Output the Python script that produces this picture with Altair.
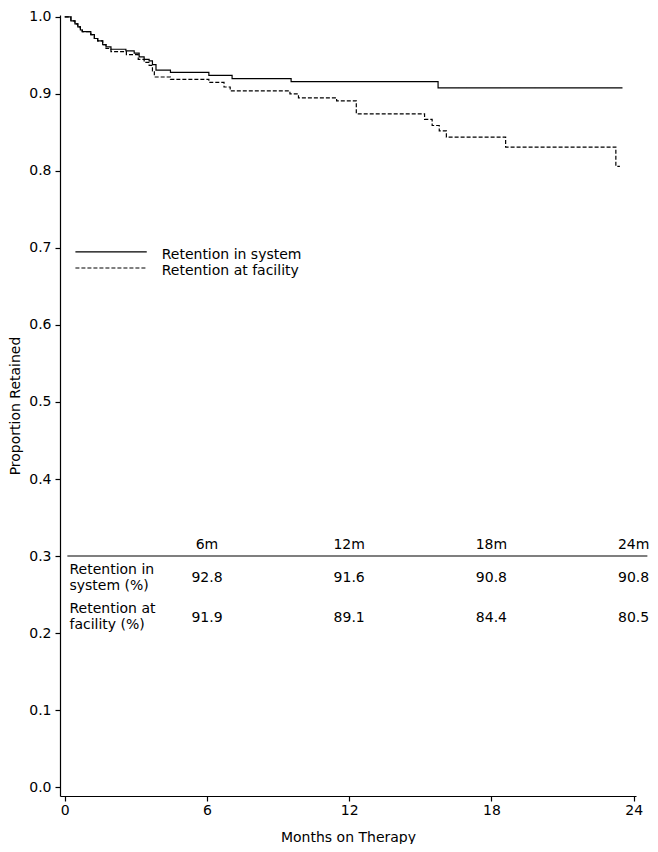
import altair as alt
import pandas as pd

# ---------------- data ----------------
series_names = ["Retention in system", "Retention at facility"]

sys_months = [0, 0.26, 0.43, 0.55, 0.66, 0.74, 1.10, 1.25, 1.39, 1.60, 1.74, 1.95,
              2.58, 2.93, 3.14, 3.35, 3.56, 3.70, 3.85, 4.46, 6.08, 7.06, 9.55, 15.75, 23.53]
sys_ret = [1.000, 0.995, 0.991, 0.987, 0.983, 0.981, 0.977, 0.972, 0.969, 0.964, 0.961, 0.958,
           0.956, 0.953, 0.948, 0.945, 0.943, 0.938, 0.931, 0.928, 0.924, 0.920, 0.916, 0.908, 0.908]

fac_months = [0, 0.26, 0.43, 0.55, 0.66, 0.74, 1.10, 1.25, 1.39, 1.60, 1.74, 1.95,
              2.60, 3.10, 3.35, 3.56, 3.70, 3.78, 4.46, 6.08, 6.72, 6.98, 9.50, 9.86,
              11.47, 12.30, 15.18, 15.50, 15.80, 16.10, 18.60, 23.25, 23.42]
fac_ret = [1.000, 0.995, 0.991, 0.987, 0.983, 0.981, 0.977, 0.972, 0.969, 0.964, 0.959, 0.955,
           0.951, 0.945, 0.941, 0.937, 0.930, 0.922, 0.919, 0.915, 0.909, 0.904, 0.900, 0.895,
           0.891, 0.874, 0.867, 0.859, 0.852, 0.844, 0.831, 0.806, 0.806]

table_months = [6, 12, 18, 24]
table_headers = ["6m", "12m", "18m", "24m"]
table_sys = ["92.8", "91.6", "90.8", "90.8"]
table_fac = ["91.9", "89.1", "84.4", "80.5"]
row_labels = [["Retention in", "system (%)"], ["Retention at", "facility (%)"]]

x_ticks = [0, 6, 12, 18, 24]
y_ticks = [0.0, 0.1, 0.2, 0.3, 0.4, 0.5, 0.6, 0.7, 0.8, 0.9, 1.0]

FONT = "DejaVu Sans"
FS = 14

# ---------------- tables for the library ----------------
curves = pd.concat([
    pd.DataFrame({"t": sys_months, "v": sys_ret, "series": series_names[0]}),
    pd.DataFrame({"t": fac_months, "v": fac_ret, "series": series_names[1]}),
], ignore_index=True)

xs = alt.Scale(domain=[-0.2, 24.1], nice=False, zero=False)
ys = alt.Scale(domain=[-0.0116, 1.0025], nice=False, zero=False)
x_axis = alt.Axis(values=x_ticks, title="Months on Therapy", format="d",
                  labelPadding=2, titlePadding=13)
y_axis = alt.Axis(values=y_ticks, title="Proportion Retained", format=".1f",
                  labelPadding=4, titlePadding=6)


def X(field):
    return alt.X(field, type="quantitative", scale=xs, axis=x_axis)


def Y(field):
    return alt.Y(field, type="quantitative", scale=ys, axis=y_axis)


dash = alt.StrokeDash("series:N",
                      scale=alt.Scale(domain=series_names, range=[[1, 0], [4, 2]]),
                      legend=None)

lines = alt.Chart(curves).mark_line(
    interpolate="step-after", color="black", strokeWidth=1.2
).encode(x=X("t"), y=Y("v"), strokeDash=dash, detail="series:N")

# legend drawn in data coordinates
leg_line_v = [0.6950, 0.6740]
leg_text_v = [0.6910, 0.6700]
legend_df = pd.DataFrame({
    "series": series_names,
    "x1": [0.45, 0.45], "x2": [3.46, 3.46], "xt": [4.09, 4.09],
    "yl": leg_line_v, "yt": leg_text_v,
})
leg_rules = alt.Chart(legend_df).mark_rule(color="black", strokeWidth=1.2).encode(
    x=X("x1"), x2="x2", y=Y("yl"), strokeDash=dash)
leg_text = alt.Chart(legend_df).mark_text(
    align="left", baseline="middle", font=FONT, fontSize=FS, color="black"
).encode(x=X("xt"), y=Y("yt"), text="series:N")

# risk table
hdr_v, rule_v = 0.3147, 0.300
row_value_v = [0.2709, 0.2201]
row_line_v = [[0.2816, 0.2615], [0.2307, 0.2107]]

rule_df = pd.DataFrame({"a": [0.11], "b": [24.58], "y": [rule_v]})
table_rule = alt.Chart(rule_df).mark_rule(color="black", strokeWidth=1.2).encode(
    x=X("a"), x2="b", y=Y("y"))

hdr_df = pd.DataFrame({"t": table_months, "lab": table_headers, "y": hdr_v})
val_df = pd.concat([
    pd.DataFrame({"t": table_months, "lab": table_sys, "y": row_value_v[0]}),
    pd.DataFrame({"t": table_months, "lab": table_fac, "y": row_value_v[1]}),
], ignore_index=True)
cells = pd.concat([hdr_df, val_df], ignore_index=True)
cell_text = alt.Chart(cells).mark_text(
    align="center", baseline="middle", font=FONT, fontSize=FS, color="black"
).encode(x=X("t"), y=Y("y"), text="lab:N")

rl_rows = []
for i, lab in enumerate(row_labels):
    for j, part in enumerate(lab):
        rl_rows.append({"t": 0.2, "y": row_line_v[i][j], "lab": part})
rl_df = pd.DataFrame(rl_rows)
row_text = alt.Chart(rl_df).mark_text(
    align="left", baseline="middle", font=FONT, fontSize=FS, color="black"
).encode(x=X("t"), y=Y("y"), text="lab:N")

chart = alt.layer(lines, leg_rules, leg_text, table_rule, cell_text, row_text).properties(
    width=576, height=781,
    autosize=alt.AutoSizeParams(type="none"),
    padding={"left": 52, "top": 7, "right": 14, "bottom": 48},
).configure_view(stroke=None).configure_axis(
    grid=False, domainColor="black", tickColor="black", labelColor="black",
    titleColor="black", labelFont=FONT, titleFont=FONT, labelFontSize=FS,
    titleFontSize=FS, titleFontWeight="normal", tickSize=5, domainWidth=1.2,
    tickWidth=1.2,
)

chart.save("out.html", embed_options={"renderer": "svg", "actions": False})
